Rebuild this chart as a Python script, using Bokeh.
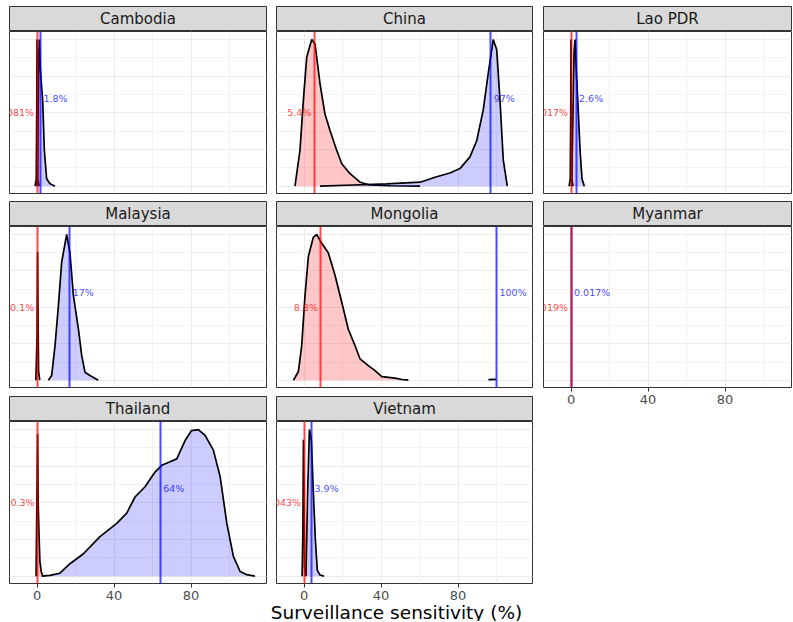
from bokeh.plotting import figure
from bokeh.layouts import column, row
from bokeh.models import Range1d, FixedTicker
from bokeh.core.properties import value
from bokeh.embed import file_html
from bokeh.resources import INLINE

# ---------------- data ----------------
COUNTRIES = ["Cambodia", "China", "Lao PDR", "Malaysia", "Mongolia", "Myanmar", "Thailand", "Vietnam"]
RED_MEDIAN = [0.0081, 5.4, 0.017, 0.1, 8.8, 0.0019, 0.3, 0.043]
BLUE_MEDIAN = [1.8, 97.0, 2.6, 17.0, 100.0, 0.017, 64.0, 3.9]
RED_LABELS = ["0.0081%", "5.4%", "0.017%", "0.1%", "8.8%", "0.0019%", "0.3%", "0.043%"]
BLUE_LABELS = ["1.8%", "97%", "2.6%", "17%", "100%", "0.017%", "64%", "3.9%"]
X_TICKS = [0, 40, 80]
X_MINOR = [-20, 20, 60, 100]
Y_TICKS = [0, 0.25, 0.5, 0.75, 1.0]
Y_MINOR = [0.125, 0.375, 0.625, 0.875]
X_TITLE = "Surveillance sensitivity (%)"

CAMBODIA_RED_X = [-1.0, -0.4, -0.1, 0.0, 0.1, 0.4, 1.0]
CAMBODIA_RED_Y = [0.0, 0.05, 0.6, 1.0, 0.6, 0.05, 0.0]
CAMBODIA_BLUE_X = [0.0, 0.4, 0.9, 1.2, 1.7, 2.25, 2.95, 3.8, 5.0, 6.75, 9.35]
CAMBODIA_BLUE_Y = [0.0, 0.3, 0.9, 1.0, 0.81, 0.70, 0.585, 0.244, 0.05, 0.016, 0.0]

CHINA_RED_X = [-4.7, -2.1, -0.35, 1.4, 4.0, 5.7, 8.3, 10.9, 13.5, 17.0, 19.6, 23.9, 29.1, 34.3, 44.7, 60.3]
CHINA_RED_Y = [0.0, 0.244, 0.585, 0.88, 1.0, 0.97, 0.70, 0.49, 0.38, 0.244, 0.153, 0.085, 0.027, 0.008, 0.003, 0.0]
CHINA_BLUE_X = [8.3, 25.6, 43.0, 60.3, 68.9, 75.8, 81.0, 86.2, 89.7, 93.1, 95.7, 98.3, 100.1, 101.8, 103.5, 105.6]
CHINA_BLUE_Y = [0.0, 0.008, 0.016, 0.027, 0.064, 0.09, 0.12, 0.2, 0.31, 0.52, 0.77, 1.0, 0.93, 0.585, 0.18, 0.0]

LAO_RED_X = [-1.0, -0.4, -0.1, 0.0, 0.1, 0.4, 1.0]
LAO_RED_Y = [0.0, 0.05, 0.6, 1.0, 0.6, 0.05, 0.0]
LAO_BLUE_X = [0.3, 1.0, 1.6, 2.1, 2.7, 3.5, 4.7, 5.7, 6.9]
LAO_BLUE_Y = [0.0, 0.5, 0.92, 1.0, 0.8, 0.585, 0.244, 0.05, 0.0]

MALAYSIA_RED_X = [-0.6, 0.0, 0.3, 0.5, 0.8, 1.4]
MALAYSIA_RED_Y = [0.0, 0.3, 0.88, 0.5, 0.06, 0.0]
MALAYSIA_BLUE_X = [5.9, 7.6, 9.35, 11.1, 12.8, 15.4, 17.1, 18.9, 21.5, 23.2, 24.9, 27.5, 31.8]
MALAYSIA_BLUE_Y = [0.0, 0.032, 0.237, 0.51, 0.81, 1.0, 0.875, 0.58, 0.35, 0.17, 0.055, 0.032, 0.0]

MONGOLIA_RED_X = [-5.5, -2.9, -1.2, 0.5, 2.25, 4.8, 6.6, 9.2, 12.6, 16.1, 19.6, 23.0, 26.5, 29.1, 33.4, 36.9, 40.4, 47.3, 50.8, 54.2]
MONGOLIA_RED_Y = [0.0, 0.06, 0.237, 0.58, 0.85, 0.98, 1.0, 0.94, 0.875, 0.72, 0.535, 0.35, 0.237, 0.146, 0.10, 0.066, 0.025, 0.014, 0.005, 0.0]
MONGOLIA_BLUE_X = [95.8, 99.0, 99.6]
MONGOLIA_BLUE_Y = [0.004, 0.006, 0.006]

MYANMAR_RED_X = []
MYANMAR_RED_Y = []
MYANMAR_BLUE_X = []
MYANMAR_BLUE_Y = []

THAILAND_RED_X = [-0.5, 0.0, 0.3, 0.6, 1.0, 1.5, 2.2, 3.0]
THAILAND_RED_Y = [0.0, 0.6, 0.97, 0.5, 0.3, 0.1, 0.03, 0.0]
THAILAND_BLUE_X = [2.4, 6.75, 11.9, 17.1, 24.1, 32.7, 41.4, 46.6, 50.9, 56.1, 61.3, 64.8, 69.1, 72.6,
                   76.9, 80.3, 83.8, 87.3, 91.6, 95.1, 98.6, 102.0, 105.5, 109.0, 113.2]
THAILAND_BLUE_Y = [0.0, 0.005, 0.02, 0.085, 0.153, 0.27, 0.36, 0.43, 0.54, 0.61, 0.71, 0.756, 0.78, 0.8,
                   0.925, 0.993, 1.0, 0.96, 0.86, 0.68, 0.36, 0.135, 0.032, 0.01, 0.0]

VIETNAM_RED_X = [-1.0, -0.6, -0.3, 0.0, 0.3, 0.8]
VIETNAM_RED_Y = [0.0, 0.3, 0.93, 0.5, 0.06, 0.0]
VIETNAM_BLUE_X = [1.0, 1.9, 2.8, 3.8, 4.8, 5.9, 6.9, 8.3, 10.4]
VIETNAM_BLUE_Y = [0.0, 0.585, 1.0, 0.93, 0.585, 0.244, 0.04, 0.008, 0.0]

RED_CURVES = [(CAMBODIA_RED_X, CAMBODIA_RED_Y), (CHINA_RED_X, CHINA_RED_Y), (LAO_RED_X, LAO_RED_Y),
              (MALAYSIA_RED_X, MALAYSIA_RED_Y), (MONGOLIA_RED_X, MONGOLIA_RED_Y), (MYANMAR_RED_X, MYANMAR_RED_Y),
              (THAILAND_RED_X, THAILAND_RED_Y), (VIETNAM_RED_X, VIETNAM_RED_Y)]
BLUE_CURVES = [(CAMBODIA_BLUE_X, CAMBODIA_BLUE_Y), (CHINA_BLUE_X, CHINA_BLUE_Y), (LAO_BLUE_X, LAO_BLUE_Y),
               (MALAYSIA_BLUE_X, MALAYSIA_BLUE_Y), (MONGOLIA_BLUE_X, MONGOLIA_BLUE_Y), (MYANMAR_BLUE_X, MYANMAR_BLUE_Y),
               (THAILAND_BLUE_X, THAILAND_BLUE_Y), (VIETNAM_BLUE_X, VIETNAM_BLUE_Y)]

# ---------------- style / layout ----------------
FONT = value("DejaVu Sans")
COLS = [(9, 257, 5), (5, 256, 5), (6, 248, 1)]   # (border left, frame width, border right)
STRIP_TOP = [6, 0, 0]
STRIP_H = [25, 25, 25]
PANEL_H = [162, 161, 162]
GAP = [8, 9, 0]
AXIS_B = 18
TITLE_H = 19
PX_PER_UNIT = 1.925
X_LO = -14.3
Y_LO, Y_HI = -0.05, 1.055
RED_LABEL_Y = 0.5
BLUE_LABEL_Y = 0.6


def make_strip(name, col, r):
    bl, fw, br = COLS[col]
    s = figure(frame_width=fw, frame_height=STRIP_H[r], x_range=Range1d(0, 1), y_range=Range1d(0, 1),
               title=None, toolbar_location=None, output_backend="svg",
               x_axis_location=None, y_axis_location=None,
               min_border_left=bl, min_border_right=br, min_border_top=STRIP_TOP[r], min_border_bottom=0)
    s.grid.visible = False
    s.background_fill_color = "#D9D9D9"
    s.border_fill_color = "white"
    s.outline_line_color = "#333333"
    s.outline_line_width = 1
    s.text(x=[0.5], y=[0.5], text=[name], text_align="center", text_baseline="middle",
           text_font=FONT, text_font_size="15px", text_color="#1A1A1A")
    return s


def make_panel(i, col, r, has_axis):
    bl, fw, br = COLS[col]
    p = figure(frame_width=fw, frame_height=PANEL_H[r],
               x_range=Range1d(X_LO, X_LO + fw / PX_PER_UNIT), y_range=Range1d(Y_LO, Y_HI),
               title=None, toolbar_location=None, output_backend="svg",
               x_axis_location="below" if has_axis else None, y_axis_location=None,
               min_border_left=bl, min_border_right=br, min_border_top=0,
               min_border_bottom=AXIS_B if has_axis else GAP[r])
    p.background_fill_color = "white"
    p.border_fill_color = "white"
    p.outline_line_color = "#333333"
    p.outline_line_width = 1
    p.xgrid.ticker = FixedTicker(ticks=X_TICKS, minor_ticks=X_MINOR)
    p.ygrid.ticker = FixedTicker(ticks=Y_TICKS, minor_ticks=Y_MINOR)
    for g in (p.xgrid, p.ygrid):
        g.grid_line_color = "#EBEBEB"
        g.grid_line_width = 1.1
        g.minor_grid_line_color = "#EBEBEB"
        g.minor_grid_line_width = 0.6
    if has_axis:
        ax = p.xaxis[0]
        ax.ticker = FixedTicker(ticks=X_TICKS)
        ax.axis_line_color = None
        ax.major_tick_line_color = "#333333"
        ax.major_tick_out = 4
        ax.major_tick_in = 0
        ax.minor_tick_line_color = None
        ax.major_label_text_font = "DejaVu Sans"
        ax.major_label_text_font_size = "13px"
        ax.major_label_text_line_height = 0.85
        ax.major_label_text_color = "#4D4D4D"
        ax.major_label_standoff = 3

    rx, ry = RED_CURVES[i]
    bx, by = BLUE_CURVES[i]
    if rx:
        p.varea(x=rx, y1=0, y2=ry, fill_color="red", fill_alpha=0.22)
        p.line(rx, ry, line_color="black", line_width=1.7)
    if bx:
        p.varea(x=bx, y1=0, y2=by, fill_color="blue", fill_alpha=0.2)
        p.line(bx, by, line_color="black", line_width=1.7)
    p.vspan(x=[BLUE_MEDIAN[i]], line_color="blue", line_alpha=0.7, line_width=2)
    p.vspan(x=[RED_MEDIAN[i]], line_color="red", line_alpha=0.7, line_width=2)
    p.text(x=[RED_MEDIAN[i]], y=[RED_LABEL_Y], text=[RED_LABELS[i]], text_align="right",
           text_baseline="middle", x_offset=-3, text_font=FONT, text_font_size="9.5px",
           text_color="red", text_alpha=0.75)
    p.text(x=[BLUE_MEDIAN[i]], y=[BLUE_LABEL_Y], text=[BLUE_LABELS[i]], text_align="left",
           text_baseline="middle", x_offset=3, text_font=FONT, text_font_size="9.5px",
           text_color="blue", text_alpha=0.75)
    return p


n = len(COUNTRIES)
ncols = 3
nrows = (n + ncols - 1) // ncols
columns = []
for c in range(ncols):
    items = []
    idxs = [r * ncols + c for r in range(nrows) if r * ncols + c < n]
    for k, i in enumerate(idxs):
        r = i // ncols
        last = (k == len(idxs) - 1)
        items.append(make_strip(COUNTRIES[i], c, r))
        items.append(make_panel(i, c, r, has_axis=last))
    columns.append(column(*items, spacing=0))

total_w = sum(bl + fw + br for bl, fw, br in COLS)
t = figure(frame_width=total_w, frame_height=TITLE_H, x_range=Range1d(0, 1), y_range=Range1d(0, 1),
           title=None, toolbar_location=None, output_backend="svg",
           x_axis_location=None, y_axis_location=None,
           min_border_left=0, min_border_right=0, min_border_top=0, min_border_bottom=0)
t.grid.visible = False
t.outline_line_color = None
t.background_fill_color = "white"
t.border_fill_color = "white"
t.text(x=[0.5], y=[0.5], text=[X_TITLE], text_align="center", text_baseline="middle",
       text_font=FONT, text_font_size="18.5px", text_color="black")

layout = column(row(*columns, spacing=0), t, spacing=0)
open("out.html", "w").write(file_html(layout, INLINE))
